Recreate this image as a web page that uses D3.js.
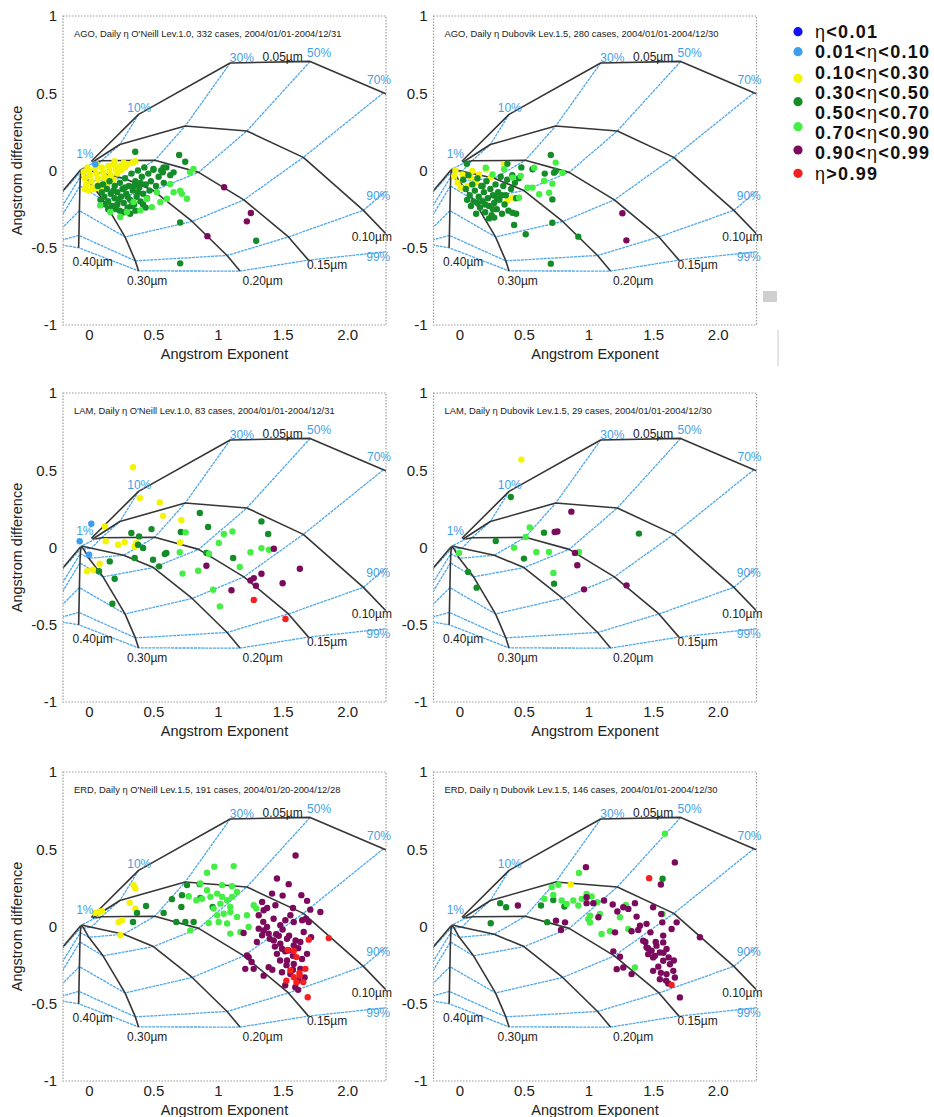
<!DOCTYPE html>
<html><head><meta charset="utf-8">
<script src="https://cdn.jsdelivr.net/npm/d3@7"></script>
<style>
body{margin:0;background:#fff}
svg text{font-family:Arial,"Liberation Sans",sans-serif}
</style>
</head><body>
<svg id="c" width="934" height="1117"></svg>
<script>
// ---------- grid (Gobbi-type classification) ----------
const etaLevels = ["1%","10%","30%","50%","70%","90%","99%"];
const radii = ["0.05µm","0.10µm","0.15µm","0.20µm","0.30µm","0.40µm","0.50µm"];
// Angstrom exponent of each grid node: rows = radius, columns = eta
const gridAlpha = [
  [0.02, 0.385, 1.094, 1.713, 2.28, 2.90, 3.20],
  [0.03, 0.24, 0.746, 1.223, 1.66, 2.125, 2.42],
  [0.05, 0.098, 0.51, 0.85, 1.20, 1.545, 1.70],
  [-0.055, 0.02, 0.27, 0.50, 0.80, 1.07, 1.17],
  [-0.06, -0.04, 0.0, 0.11, 0.28, 0.36, 0.385],
  [-0.061, -0.063, -0.066, -0.069, -0.073, -0.077, -0.079],
  [-0.065, -0.26, -0.30, -0.30, -0.30, -0.30, -0.30]
];
// Angstrom difference of each grid node
const gridDelta = [
  [0.06, 0.363, 0.696, 0.706, 0.503, 0.30, 0.0],
  [0.055, 0.168, 0.288, 0.256, 0.085, -0.258, -0.515],
  [0.055, 0.063, 0.066, -0.012, -0.19, -0.43, -0.58],
  [0.01, -0.005, -0.05, -0.13, -0.33, -0.55, -0.651],
  [0.008, -0.01, -0.07, -0.19, -0.43, -0.585, -0.65],
  [0.005, -0.01, -0.04, -0.10, -0.26, -0.42, -0.50],
  [0.003, -0.19, -0.36, -0.42, -0.45, -0.47, -0.47]
];
const gridLabelText = ["30%","0.05µm","50%","70%","10%","1%","90%","0.10µm","99%","0.15µm","0.20µm","0.30µm","0.40µm"];
const gridLabelKind = ["eta","r","eta","eta","eta","eta","eta","r","eta","r","r","r","r"];
const gridLabelX = [1.184, 1.50, 1.782, 2.246, 0.39, -0.031, 2.24, 2.19, 2.24, 1.844, 1.345, 0.452, 0.03];
const gridLabelY = [0.73, 0.738, 0.76, 0.588, 0.406, 0.106, -0.162, -0.43, -0.558, -0.612, -0.715, -0.715, -0.59];

// ---------- axes ----------
const xTicks = [0, 0.5, 1, 1.5, 2];
const xTickLabels = ["0","0.5","1","1.5","2.0"];
const yTicks = [1, 0.5, 0, -0.5, -1];
const yTickLabels = ["1","0.5","0","-0.5","-1"];
const xTitle = "Angstrom Exponent";
const yTitle = "Angstrom difference";

// ---------- legend ----------
const classColors = ["#1010f0","#3d9ef0","#f4f400","#148c28","#44ee44","#7c0a5c","#f42020"];
const legendLabels = ["η<0.01","0.01<η<0.10","0.10<η<0.30","0.30<η<0.50","0.50<η<0.70","0.70<η<0.90","0.90<η<0.99","η>0.99"];

// ---------- panels ----------
const panelTitles = [
  "AGO, Daily η O'Neill Lev.1.0, 332 cases, 2004/01/01-2004/12/31",
  "AGO, Daily η Dubovik Lev.1.5, 280 cases, 2004/01/01-2004/12/30",
  "LAM, Daily η O'Neill Lev.1.0, 83 cases, 2004/01/01-2004/12/31",
  "LAM, Daily η Dubovik Lev.1.5, 29 cases, 2004/01/01-2004/12/30",
  "ERD, Daily η O'Neill Lev.1.5, 191 cases, 2004/01/20-2004/12/28",
  "ERD, Daily η Dubovik Lev.1.5, 146 cases, 2004/01/01-2004/12/30"
];

// points: [angstrom exponent, angstrom difference, colour class]
const agoOneill = [
 [-0.04,-0.01,2],[-0.03,-0.05,2],[-0.02,-0.09,2],[0.0,0.0,2],[0.01,-0.03,2],[0.02,-0.07,2],[0.03,-0.11,2],[0.05,0.01,2],[0.06,-0.02,2],[0.07,-0.05,2],[0.08,-0.09,2],[0.10,0.02,2],[0.11,-0.01,2],[0.12,-0.04,2],[0.13,-0.07,2],[0.15,0.03,2],[0.16,0.0,2],[0.17,-0.03,2],[0.19,0.04,2],[0.21,0.01,2],[0.22,-0.02,2],[0.24,0.03,2],[0.27,0.05,2],[0.30,0.04,2],[0.34,0.05,2],[0.36,0.06,2],[0.04,-0.12,2],[0.09,-0.12,2],[0.14,-0.10,2],[0.19,-0.06,2],[0.25,0.0,2],[0.0,-0.13,2],[-0.03,-0.12,2],[0.20,0.06,2],[0.28,0.02,2],[-0.01,0.02,2],[0.06,0.04,2],
 [0.10,-0.14,3],[0.12,-0.17,3],[0.14,-0.12,3],[0.15,-0.20,3],[0.17,-0.15,3],[0.18,-0.23,3],[0.20,-0.10,3],[0.20,-0.18,3],[0.22,-0.14,3],[0.22,-0.22,3],[0.24,-0.08,3],[0.24,-0.26,3],[0.25,-0.17,3],[0.26,-0.12,3],[0.27,-0.21,3],[0.28,-0.05,3],[0.29,-0.15,3],[0.30,-0.24,3],[0.31,-0.10,3],[0.32,-0.19,3],[0.33,-0.02,3],[0.34,-0.13,3],[0.35,-0.22,3],[0.36,-0.07,3],[0.37,-0.17,3],[0.38,0.0,3],[0.39,-0.11,3],[0.40,-0.20,3],[0.41,-0.04,3],[0.42,-0.15,3],[0.43,0.02,3],[0.44,-0.09,3],[0.45,-0.18,3],[0.46,-0.02,3],[0.47,-0.13,3],[0.48,-0.07,3],[0.50,0.01,3],[0.52,-0.10,3],[0.54,-0.04,3],[0.56,0.0,3],[0.58,-0.08,3],[0.60,0.02,3],[0.63,-0.03,3],[0.16,-0.07,3],[0.13,-0.22,3],[0.27,-0.27,3],[0.32,-0.28,3],[0.07,-0.10,3],[0.09,-0.19,3],[0.36,-0.26,3],[0.44,-0.24,3],
 [0.11,-0.09,3],[0.19,-0.13,3],[0.23,-0.19,3],[0.28,-0.11,3],[0.30,-0.17,3],[0.33,-0.23,3],[0.35,-0.10,3],[0.38,-0.14,3],[0.40,-0.08,3],[0.42,-0.22,3],[0.15,-0.25,3],[0.21,-0.25,3],
 [0.359,0.121,3],[0.699,0.10,3],[0.746,0.057,3],[0.50,0.005,3],[0.656,-0.012,3],[0.707,-0.337,3],[0.707,-0.601,3],[1.295,-0.455,3],[0.578,0.02,3],[0.573,-0.012,3],
 [0.243,-0.301,4],[0.398,-0.258,4],[0.488,-0.237,4],[0.604,-0.183,4],[0.707,-0.130,4],[0.759,-0.183,4],[0.784,-0.012,4],[0.72,-0.151,4],[0.63,-0.087,4],[0.527,-0.14,4],[0.346,-0.204,4],[0.166,-0.269,4],[0.449,-0.183,4],[0.656,-0.14,4],[0.553,-0.204,4],[0.81,0.01,4],[0.088,-0.226,4],[0.295,-0.269,4],
 [1.047,-0.108,5],[1.254,-0.275,5],[1.223,-0.329,5],[0.918,-0.425,5],
 [0.05,0.04,1]
];
const agoDubovik = [
 [-0.04,-0.036,2],[-0.014,-0.079,2],[0.024,-0.025,2],[0.063,-0.10,2],[0.089,-0.046,2],[0.127,-0.079,2],[0.153,-0.025,2],[0.205,0.008,2],[0.243,-0.046,2],[0.346,0.04,2],[0.411,-0.176,2],[0.372,-0.197,2],[0.011,-0.111,2],[0.10,-0.003,2],[-0.03,0.0,2],
 [0.03,-0.06,3],[0.05,-0.12,3],[0.07,-0.03,3],[0.08,-0.16,3],[0.10,-0.09,3],[0.11,-0.20,3],[0.12,-0.13,3],[0.14,-0.05,3],[0.15,-0.17,3],[0.16,-0.24,3],[0.17,-0.10,3],[0.18,-0.20,3],[0.19,-0.14,3],[0.20,-0.27,3],[0.21,-0.07,3],[0.22,-0.18,3],[0.23,-0.23,3],[0.24,-0.12,3],[0.25,-0.29,3],[0.26,-0.16,3],[0.27,-0.21,3],[0.28,-0.09,3],[0.29,-0.25,3],[0.30,-0.14,3],[0.31,-0.19,3],[0.32,-0.04,3],[0.33,-0.28,3],[0.34,-0.10,3],[0.35,-0.22,3],[0.36,-0.16,3],[0.37,-0.06,3],[0.38,-0.26,3],[0.40,-0.12,3],[0.41,-0.03,3],[0.43,-0.08,3],[0.44,-0.18,3],[0.46,-0.05,3],[0.48,0.02,3],[0.13,-0.28,3],[0.23,-0.31,3],[0.09,-0.23,3],[0.44,-0.28,3],[0.06,-0.19,3],
 [0.14,-0.21,3],[0.20,-0.22,3],[0.26,-0.25,3],[0.29,-0.18,3],[0.33,-0.16,3],[0.18,-0.10,3],
 [0.708,0.10,3],[0.746,-0.003,3],[0.72,-0.187,3],[0.72,-0.338,3],[0.514,-0.413,3],[0.424,-0.353,3],[0.411,-0.273,3],[0.27,-0.305,3],[0.921,-0.428,3],[0.708,-0.603,3],[0.566,0.008,3],[0.661,-0.02,3],[0.733,-0.014,3],[0.372,0.044,3],[0.058,0.044,3],
 [0.205,0.018,4],[0.257,-0.025,4],[0.411,-0.046,4],[0.475,-0.036,4],[0.579,0.018,4],[0.656,-0.068,4],[0.618,-0.154,4],[0.695,-0.144,4],[0.746,0.051,4],[0.798,-0.014,4],[0.566,-0.111,4],[0.347,0.008,4],[0.462,-0.176,4],[0.527,-0.111,4],[0.72,-0.085,4],
 [1.262,-0.277,5],[1.293,-0.452,5]
];
const lamOneill = [
 [-0.071,0.04,1],[0.019,0.154,1],[0.002,-0.047,1],
 [0.342,0.519,2],[0.394,0.32,2],[0.549,0.292,2],[0.575,0.205,2],[0.716,0.176,2],[0.123,0.137,2],[0.131,0.04,2],[0.226,0.018,2],[0.277,0.035,2],[0.355,0.007,2],[0.368,0.029,2],[0.084,-0.105,2],[-0.014,-0.154,2],[0.033,-0.144,2],[0.706,0.033,2],
 [0.859,0.223,3],[0.923,0.133,3],[0.329,0.094,3],[0.389,0.072,3],[0.381,0.018,3],[0.42,-0.003,3],[0.355,-0.068,3],[0.485,0.119,3],[0.497,-0.079,3],[0.544,-0.122,3],[0.588,-0.042,3],[0.60,-0.036,3],[0.712,0.10,3],[1.336,0.169,3],[1.388,0.087,3],[1.117,-0.068,3],[0.91,-0.036,3],[0.20,-0.202,3],[0.079,-0.154,3],[0.162,-0.09,3],[0.182,-0.364,3],
 [0.749,0.098,4],[0.704,-0.031,4],[0.725,-0.169,4],[0.846,-0.15,4],[0.962,-0.273,4],[1.014,-0.381,4],[1.006,0.029,4],[1.045,0.087,4],[1.112,0.104,4],[1.251,-0.031,4],[1.336,-0.004,4],[1.395,-0.015,4],[1.168,-0.126,4],[0.93,-0.04,4],
 [0.91,-0.118,5],[1.251,-0.213,5],[1.277,-0.198,5],[1.293,-0.248,5],[1.336,-0.17,5],[1.432,-0.008,5],[1.50,-0.231,5],[1.633,-0.138,5],[1.104,-0.277,5],
 [1.277,-0.339,6],[1.522,-0.463,6]
];
const lamDubovik = [
 [0.48,0.569,2],
 [0.398,0.327,3],[0.282,0.042,3],[0.655,0.096,3],[0.50,-0.072,3],[0.733,-0.234,3],[0.134,-0.26,3],[0.068,-0.158,3],[1.39,0.09,3],
 [0.545,0.129,4],[0.513,0.068,4],[0.424,-0.001,4],[0.596,-0.029,4],[0.694,-0.029,4],[0.728,-0.165,4],[0.926,-0.029,4],[-0.002,-0.035,4],
 [0.867,0.232,5],[0.738,0.10,5],[0.759,0.104,5],[0.895,-0.035,5],[0.913,-0.115,5],[0.965,-0.271,5],[1.294,-0.245,5]
];
const erdOneill = [
 [0.347,0.268,2],[0.36,0.246,2],[0.316,0.153,2],[0.36,0.116,2],[0.05,0.088,2],[0.076,0.094,2],[0.101,0.099,2],[0.231,0.029,2],[0.257,0.04,2],[0.244,-0.057,2],
 [0.373,0.088,3],[0.443,0.133,3],[0.342,0.029,3],[0.579,0.088,3],[0.643,0.177,3],[0.721,0.203,3],[0.716,0.127,3],[0.76,0.268,3],[0.858,0.274,3],[0.677,0.029,3],[0.747,0.029,3],[0.811,0.029,3],[0.958,0.127,3],[0.863,0.185,3],
 [0.971,0.387,4],[1.121,0.391,4],[0.915,0.348,4],[0.863,0.278,4],[0.876,0.18,4],[0.941,0.192,4],[0.993,0.213,4],[1.031,0.192,4],[1.07,0.17,4],[1.108,0.192,4],[1.095,0.127,4],[1.018,0.148,4],[0.966,0.116,4],[0.993,0.073,4],[1.044,0.083,4],[1.095,0.094,4],[1.005,0.029,4],[1.07,0.019,4],[1.147,0.062,4],[1.224,0.073,4],[1.276,0.138,4],[1.296,0.116,4],[1.173,-0.036,4],[1.095,-0.046,4],[0.928,0.023,4],[0.786,-0.025,4],[0.832,0.17,4],[0.915,0.235,4],[1.031,0.268,4],[1.108,0.261,4],[1.147,0.224,4],[0.773,0.196,4],[1.237,-0.003,4],
 [1.456,0.311,5],[1.547,0.274,5],[1.645,0.203,5],[1.418,0.213,5],[1.341,0.159,5],[1.353,0.105,5],[1.315,0.073,5],[1.444,0.138,5],[1.689,0.166,5],[1.714,0.109,5],[1.792,0.094,5],[1.56,0.073,5],[1.521,0.04,5],[1.586,0.029,5],[1.651,0.04,5],[1.702,0.029,5],[1.482,0.008,5],[1.379,-0.003,5],[1.315,-0.014,5],[1.341,-0.057,5],[1.392,-0.046,5],[1.431,-0.09,5],[1.482,-0.111,5],[1.534,-0.079,5],[1.495,-0.144,5],[1.547,-0.155,5],[1.586,-0.122,5],[1.637,-0.10,5],[1.663,-0.036,5],[1.689,-0.177,5],[1.456,-0.177,5],[1.534,-0.22,5],[1.586,-0.242,5],[1.637,-0.274,5],[1.56,-0.307,5],[1.624,-0.35,5],[1.598,-0.393,5],[1.495,-0.296,5],[1.392,-0.263,5],[1.353,-0.318,5],[1.276,-0.274,5],[1.237,-0.198,5],[1.211,-0.274,5],[1.198,-0.042,5],[1.224,-0.187,5],[1.353,-0.025,5],[1.60,0.46,5],[1.47,-0.06,5],[1.52,-0.16,5],
 [1.40,-0.08,5],[1.45,-0.05,5],[1.50,-0.02,5],[1.55,-0.06,5],[1.60,-0.09,5],[1.62,-0.14,5],[1.58,-0.19,5],[1.53,-0.25,5],[1.48,-0.22,5],[1.44,-0.13,5],[1.42,-0.28,5],[1.65,-0.21,5],[1.67,-0.33,5],[1.58,-0.28,5],[1.52,-0.38,5],[1.62,-0.41,5],[1.43,0.05,5],[1.38,0.12,5],[1.50,0.20,5],[1.58,0.12,5],[1.68,0.05,5],[1.35,0.03,5],[1.30,-0.10,5],[1.26,-0.23,5],[1.72,-0.07,5],
 [1.539,-0.151,6],[1.586,-0.159,6],[1.607,-0.198,6],[1.56,-0.285,6],[1.586,-0.328,6],[1.529,-0.35,6],[1.632,-0.317,6],[1.676,-0.274,6],[1.702,-0.085,6],[1.857,-0.075,6],[1.694,-0.458,6],[1.607,-0.361,6],[1.63,-0.30,6],[1.66,-0.36,6]
];
const erdDubovik = [
 [0.862,0.272,2],
 [0.243,0.021,3],[0.316,0.151,3],[0.362,0.125,3],[0.632,0.136,3],[0.727,0.172,3],[0.813,0.129,3],[0.68,0.028,3],[1.573,0.309,3],
 [1.591,0.60,4],[0.926,0.347,4],[0.715,0.255,4],[0.766,0.27,4],[0.727,0.205,4],[0.658,0.179,4],[0.792,0.168,4],[0.882,0.168,4],[0.947,0.179,4],[0.831,0.146,4],[0.921,0.136,4],[0.985,0.211,4],[1.024,0.194,4],[1.068,0.157,4],[1.011,0.07,4],[0.998,0.048,4],[1.011,0.026,4],[1.088,0.081,4],[1.289,0.14,4],[1.243,0.06,4],[1.308,-0.016,4],[1.101,-0.048,4],[1.166,-0.031,4],[1.573,0.081,4],[1.359,-0.265,4],
 [0.98,0.384,5],[1.668,0.415,5],[1.56,0.272,5],[0.453,0.136,5],[0.748,0.038,5],[0.787,-0.023,5],[0.818,0.027,5],[0.985,0.19,5],[0.985,0.151,5],[1.037,0.151,5],[1.076,0.06,5],[1.12,0.168,5],[1.187,0.142,5],[1.223,0.097,5],[1.269,0.125,5],[1.308,0.114,5],[1.359,0.151,5],[1.372,0.064,5],[1.449,0.017,5],[1.50,0.125,5],[1.563,0.081,5],[1.571,0.027,5],[1.643,-0.016,5],[1.682,0.027,5],[1.862,-0.07,5],[1.333,-0.031,5],[1.385,-0.022,5],[1.205,-0.038,5],[1.192,-0.161,5],[1.243,-0.196,5],[1.218,-0.276,5],[1.269,-0.265,5],[1.333,-0.308,5],[1.423,-0.092,5],[1.449,-0.135,5],[1.488,-0.157,5],[1.526,-0.124,5],[1.552,-0.168,5],[1.604,-0.146,5],[1.578,-0.103,5],[1.514,-0.19,5],[1.462,-0.179,5],[1.578,-0.222,5],[1.63,-0.244,5],[1.656,-0.287,5],[1.604,-0.308,5],[1.552,-0.341,5],[1.617,-0.369,5],[1.668,-0.33,5],[1.50,-0.287,5],[1.707,-0.459,5],[1.398,0.005,5],[1.479,-0.038,5],[1.578,-0.059,5],
 [1.50,-0.20,5],[1.54,-0.26,5],[1.58,-0.17,5],[1.62,-0.20,5],[1.46,-0.14,5],[1.52,-0.10,5],[1.56,-0.30,5],[1.60,-0.35,5],[1.44,-0.10,5],[1.66,-0.22,5],
 [1.469,0.313,6],[1.643,-0.379,6]
];
const panelData = [agoOneill, agoDubovik, lamOneill, lamDubovik, erdOneill, erdDubovik];

// ---------- drawing ----------
const svg = d3.select("#c");
const colX = [63, 433.5], rowY = [16, 393, 772], PW = 323, PH = 309;
const BLUE = "#4ea8ea", DARK = "#363636";

panelData.forEach((pts, i) => {
  const left = colX[i % 2], top = rowY[Math.floor(i / 2)];
  const x = d3.scaleLinear().domain([-0.2, 2.3]).range([left, left + PW]);
  const y = d3.scaleLinear().domain([-1, 1]).range([top + PH, top]);
  const g = svg.append("g");
  const cid = "clip" + i;
  svg.append("clipPath").attr("id", cid).append("rect")
    .attr("x", left).attr("y", top).attr("width", PW).attr("height", PH);
  const gc = g.append("g").attr("clip-path", `url(#${cid})`);
  const line = d3.line().x(d => x(d[0])).y(d => y(d[1]));

  // eta lines (blue)
  etaLevels.forEach((e, j) => {
    const p = radii.map((r, k) => [gridAlpha[k][j], gridDelta[k][j]]);
    gc.append("path").attr("d", line(p)).attr("fill", "none")
      .attr("stroke", BLUE).attr("stroke-width", 1.3).attr("stroke-dasharray", "3,0.8");
  });
  // radius lines (black)
  radii.forEach((r, k) => {
    const p = etaLevels.map((e, j) => [gridAlpha[k][j], gridDelta[k][j]]);
    gc.append("path").attr("d", line(p)).attr("fill", "none")
      .attr("stroke", DARK).attr("stroke-width", 1.6).attr("stroke-linejoin", "round");
  });
  // grid labels
  gridLabelText.forEach((t, n) => {
    g.append("text").attr("x", x(gridLabelX[n])).attr("y", y(gridLabelY[n]))
      .attr("dy", "0.35em").attr("text-anchor", "middle")
      .attr("font-size", 12).attr("fill", gridLabelKind[n] === "eta" ? "#3f9fe6" : "#222")
      .text(t);
  });
  // points
  gc.selectAll("circle.pt").data(pts).join("circle").attr("class", "pt")
    .attr("cx", d => x(d[0])).attr("cy", d => y(d[1])).attr("r", 3.2)
    .attr("fill", d => classColors[d[2]]);

  // frame
  g.append("rect").attr("x", left).attr("y", top).attr("width", PW).attr("height", PH)
    .attr("fill", "none").attr("stroke", "#9c9c9c").attr("stroke-width", 1.2)
    .attr("stroke-dasharray", "1.5,1.5");
  // title
  g.append("text").attr("x", left + 11).attr("y", top + 21).attr("font-size", 9.4)
    .attr("fill", "#222").text(panelTitles[i]);

  // axes
  const ay = g.append("g").attr("transform", `translate(${left},0)`)
    .call(d3.axisLeft(y).tickValues(yTicks).tickSize(0).tickPadding(6)
      .tickFormat((d) => yTickLabels[yTicks.indexOf(d)]));
  const ax = g.append("g").attr("transform", `translate(0,${top + PH})`)
    .call(d3.axisBottom(x).tickValues(xTicks).tickSize(0).tickPadding(4)
      .tickFormat((d) => xTickLabels[xTicks.indexOf(d)]));
  [ax, ay].forEach(a => {
    a.select(".domain").remove();
    a.selectAll("text").attr("font-size", 15).attr("fill", "#222")
      .attr("font-family", "Arial,'Liberation Sans',sans-serif");
  });
  g.append("text").attr("x", (x(-0.2) + x(2.3)) / 2).attr("y", top + PH + 34)
    .attr("text-anchor", "middle").attr("font-size", 14.5).attr("fill", "#222").text(xTitle);
  if (i % 2 === 0) {
    g.append("text").attr("transform", `translate(22,${(y(1) + y(-1)) / 2}) rotate(-90)`)
      .attr("text-anchor", "middle").attr("font-size", 14.5).attr("fill", "#222").text(yTitle);
  }
});

// legend
const legDotY = [31.7, 51.7, 78.3, 101.7, 126.7, 150, 173.3];
const legTextY0 = 31.7, legStep = 20.2;
const lg = svg.append("g");
classColors.forEach((c, k) => {
  lg.append("circle").attr("cx", 798).attr("cy", legDotY[k]).attr("r", 4.6).attr("fill", c);
});
legendLabels.forEach((t, k) => {
  const txt = lg.append("text").attr("x", 815).attr("y", legTextY0 + k * legStep).attr("dy", "0.36em")
    .attr("font-size", 18).attr("letter-spacing", 1.3).attr("font-weight", "bold").attr("fill", "#111");
  t.split(/(η)/).forEach(part => {
    if (!part) return;
    txt.append("tspan").attr("font-weight", part === "η" ? "normal" : "bold").text(part);
  });
});

// small scanning artefacts of the original figure
svg.append("rect").attr("x", 763).attr("y", 291).attr("width", 14).attr("height", 11).attr("fill", "#cfcfcf");
svg.append("line").attr("x1", 778).attr("x2", 778).attr("y1", 330).attr("y2", 366).attr("stroke", "#c8c8c8");
</script>
</body></html>
